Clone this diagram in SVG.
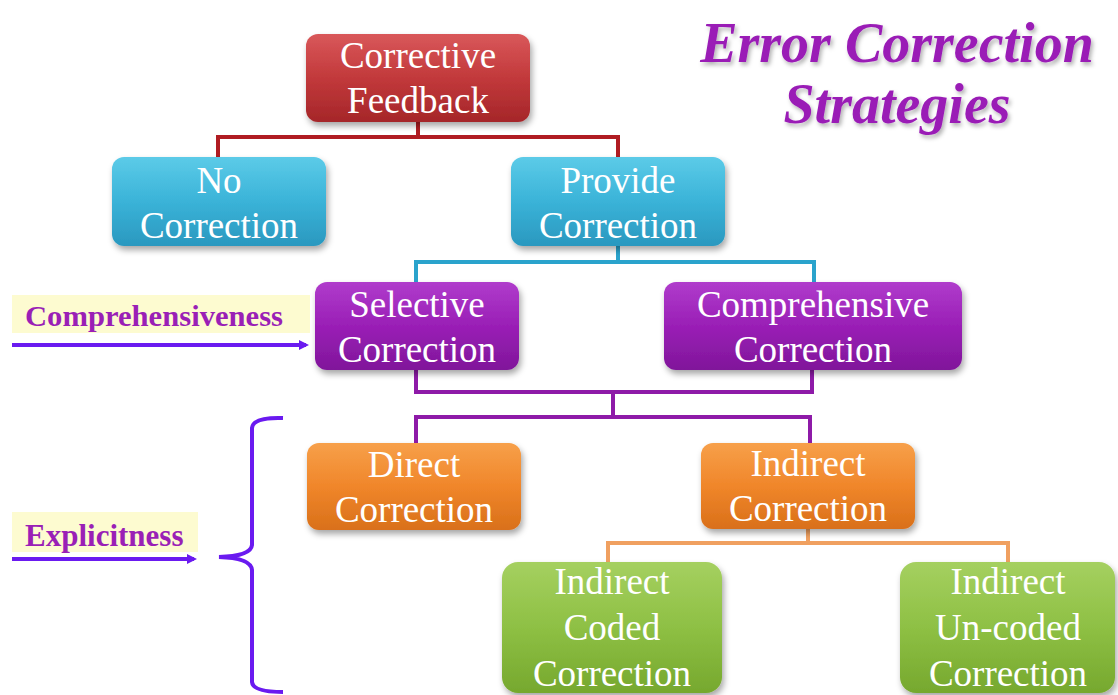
<svg xmlns="http://www.w3.org/2000/svg" width="1118" height="695" viewBox="0 0 1118 695">
<defs>
<linearGradient id="gRed" x1="0" y1="0" x2="0" y2="1"><stop offset="0" stop-color="#d9585a"/><stop offset="0.5" stop-color="#c2393b"/><stop offset="1" stop-color="#a52629"/></linearGradient>
<linearGradient id="gBlue" x1="0" y1="0" x2="0" y2="1"><stop offset="0" stop-color="#5ccbe8"/><stop offset="0.5" stop-color="#3ab3d8"/><stop offset="1" stop-color="#2a98bf"/></linearGradient>
<linearGradient id="gPurple" x1="0" y1="0" x2="0" y2="1"><stop offset="0" stop-color="#b03ccc"/><stop offset="0.5" stop-color="#9a1fb6"/><stop offset="1" stop-color="#80169a"/></linearGradient>
<linearGradient id="gOrange" x1="0" y1="0" x2="0" y2="1"><stop offset="0" stop-color="#f7a04a"/><stop offset="0.5" stop-color="#f0862a"/><stop offset="1" stop-color="#d9701a"/></linearGradient>
<linearGradient id="gGreen" x1="0" y1="0" x2="0" y2="1"><stop offset="0" stop-color="#a5d060"/><stop offset="0.5" stop-color="#8ec044"/><stop offset="1" stop-color="#76a82e"/></linearGradient>
<filter id="sh" x="-10%" y="-10%" width="125%" height="130%"><feDropShadow dx="2" dy="4" stdDeviation="3" flood-color="#000" flood-opacity="0.35"/></filter>
<filter id="tsh" x="-5%" y="-10%" width="115%" height="130%"><feDropShadow dx="2" dy="3" stdDeviation="2" flood-color="#000" flood-opacity="0.3"/></filter>
<marker id="arr" markerWidth="10" markerHeight="10" refX="7" refY="5" orient="auto" markerUnits="userSpaceOnUse" viewBox="0 0 10 10"><path d="M0,0 L10,5 L0,10 Z" fill="#6a1af0"/></marker>
</defs>
<style>
.box{stroke:none;filter:url(#sh)}
.t{font-family:'Liberation Serif','DejaVu Serif',serif;font-size:37px;fill:#fff;text-anchor:middle}
.lab{font-family:'Liberation Serif','DejaVu Serif',serif;font-weight:bold;fill:#9a1fb6}
.conn{fill:none;stroke-width:4}
</style>
<rect width="1118" height="695" fill="#fff"/>

<g id="title">
<text class="lab" x="897" y="62" font-size="56" font-style="italic" text-anchor="middle" filter="url(#tsh)">Error Correction</text>
<text class="lab" x="897" y="123" font-size="56" font-style="italic" text-anchor="middle" filter="url(#tsh)">Strategies</text>
</g>

<g id="connectors">
<path class="conn" stroke="#b01c22" d="M418,122 V137 M218,157 V137 H618 V157"/>
<path class="conn" stroke="#2aa3cc" d="M618,246 V262 M416,282 V262 H814 V282"/>
<path class="conn" stroke="#8e1aa8" d="M416,370 V392 H812 V370 M613,392 V417 M416,443 V417 H810 V443"/>
<path class="conn" stroke="#f0a060" d="M808,529 V543 M608,562 V543 H1008 V562"/>
</g>

<g id="comprehensiveness">
<rect x="12" y="295" width="298" height="38" fill="#fdfbd0"/>
<text class="lab" x="25" y="326" font-size="29" textLength="258" lengthAdjust="spacingAndGlyphs">Comprehensiveness</text>
<line x1="12" y1="345" x2="306" y2="345" stroke="#6a1af0" stroke-width="4" marker-end="url(#arr)"/>
</g>

<g id="explicitness">
<rect x="12" y="512" width="186" height="40" fill="#fdfbd0"/>
<text class="lab" x="25" y="546" font-size="31">Explicitness</text>
<line x1="12" y1="559" x2="194" y2="559" stroke="#6a1af0" stroke-width="4" marker-end="url(#arr)"/>
<path d="M283,418 Q253,417 252,428 V545 Q251,556 219,557 Q251,558 252,570 V682 Q253,692 283,692" fill="none" stroke="#6a1af0" stroke-width="4"/>
</g>

<g id="n-corrective">
<rect class="box" x="306" y="34" width="224" height="88" rx="12" fill="url(#gRed)"/>
<text class="t" x="418" y="68">Corrective</text>
<text class="t" x="418" y="113">Feedback</text>
</g>
<g id="n-no">
<rect class="box" x="112" y="157" width="214" height="89" rx="12" fill="url(#gBlue)"/>
<text class="t" x="219" y="193">No</text>
<text class="t" x="219" y="238">Correction</text>
</g>
<g id="n-provide">
<rect class="box" x="511" y="157" width="214" height="89" rx="12" fill="url(#gBlue)"/>
<text class="t" x="618" y="193">Provide</text>
<text class="t" x="618" y="238">Correction</text>
</g>
<g id="n-selective">
<rect class="box" x="315" y="282" width="204" height="88" rx="12" fill="url(#gPurple)"/>
<text class="t" x="417" y="317">Selective</text>
<text class="t" x="417" y="362">Correction</text>
</g>
<g id="n-comprehensive">
<rect class="box" x="664" y="282" width="298" height="88" rx="12" fill="url(#gPurple)"/>
<text class="t" x="813" y="317">Comprehensive</text>
<text class="t" x="813" y="362">Correction</text>
</g>
<g id="n-direct">
<rect class="box" x="307" y="443" width="214" height="87" rx="12" fill="url(#gOrange)"/>
<text class="t" x="414" y="477">Direct</text>
<text class="t" x="414" y="522">Correction</text>
</g>
<g id="n-indirect">
<rect class="box" x="701" y="443" width="214" height="86" rx="12" fill="url(#gOrange)"/>
<text class="t" x="808" y="476">Indirect</text>
<text class="t" x="808" y="521">Correction</text>
</g>
<g id="n-coded">
<rect class="box" x="502" y="562" width="220" height="131" rx="16" fill="url(#gGreen)"/>
<text class="t" x="612" y="594">Indirect</text>
<text class="t" x="612" y="640">Coded</text>
<text class="t" x="612" y="686">Correction</text>
</g>
<g id="n-uncoded">
<rect class="box" x="900" y="562" width="215" height="131" rx="16" fill="url(#gGreen)"/>
<text class="t" x="1008" y="594">Indirect</text>
<text class="t" x="1008" y="640">Un-coded</text>
<text class="t" x="1008" y="686">Correction</text>
</g>
</svg>
